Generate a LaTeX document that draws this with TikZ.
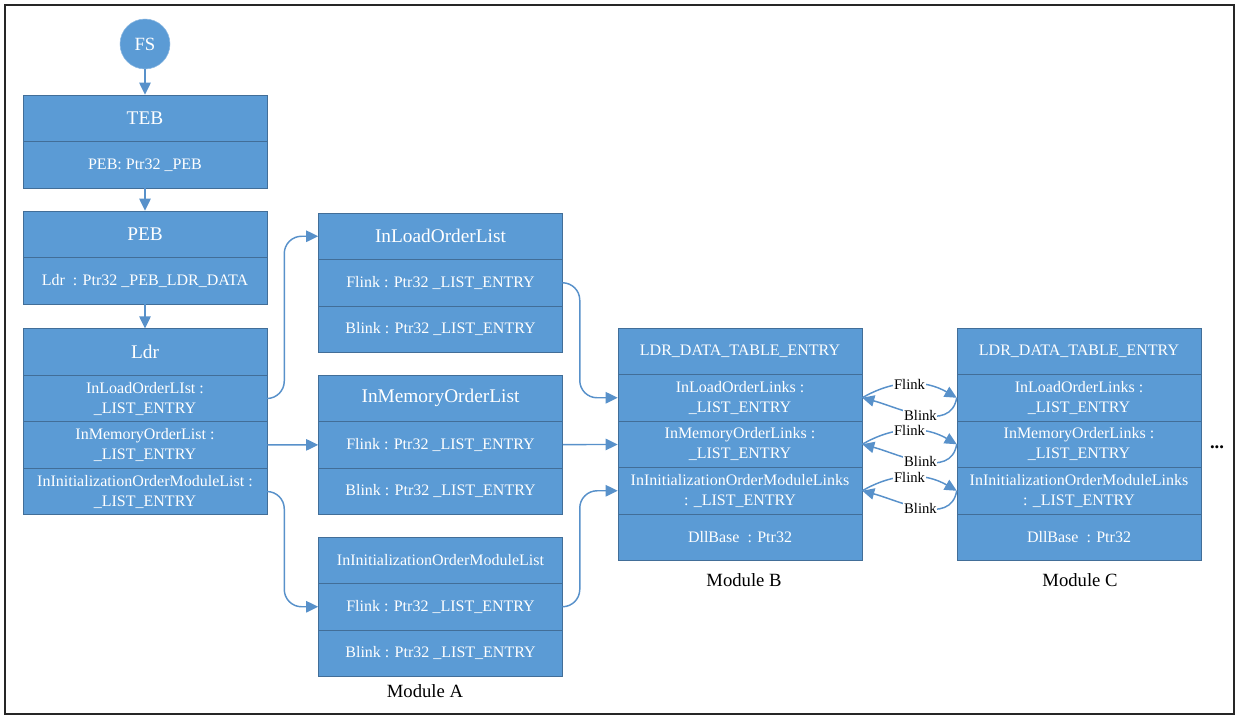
\documentclass[tikz,border=0pt]{standalone}
\usepackage{fontspec}
\setmainfont{Liberation Serif}
\usetikzlibrary{shapes,arrows.meta}

\definecolor{boxblue}{RGB}{91,155,213}
\definecolor{boxline}{RGB}{66,110,152}
\definecolor{linkblue}{RGB}{88,145,202}

\begin{document}
\begin{tikzpicture}[x=0.75pt, y=-0.75pt, node distance = 34.875pt]

    % Define block styles
    \tikzstyle{field} = [rectangle, draw=boxline, fill=boxblue, text=white,
        minimum width=183pt, minimum height=34.875pt, inner sep=1pt,
        align=center, font=\fontsize{12}{15}\selectfont]
    \tikzstyle{head} = [field, font=\fontsize{14.5}{17}\selectfont]
    \tikzstyle{line} = [draw=linkblue, line width=1.1pt, -{Triangle[length=9pt,width=8.5pt]}]
    \tikzstyle{link} = [fill=white, inner sep=0.5pt, font=\fontsize{11}{13}\selectfont]
    \tikzstyle{caption} = [font=\fontsize{14}{17}\selectfont]

    \useasboundingbox (0,0) rectangle (1240,719);
    \draw [black!85, line width=1.2pt] (5,5) rectangle (1234,714);

    % Place nodes
    \node [circle, fill=boxblue, draw=boxblue!70!white, text=white,
        minimum size=37.5pt, font=\fontsize{14}{17}\selectfont] (fs) at (145,44) {FS};

    \node [head] (teb) at (145,118.25) {TEB};
    \node [field, below of=teb] (tebpeb) {PEB: Ptr32 \_PEB};

    \node [head] (peb) at (145,234.25) {PEB};
    \node [field, below of=peb] (pebldr) {Ldr~ : Ptr32 \_PEB\_LDR\_DATA};

    \node [head] (ldr) at (145,352) {Ldr};
    \node [field, below of=ldr] (ldrload) {InLoadOrderLIst :\\\_LIST\_ENTRY};
    \node [field, below of=ldrload] (ldrmem) {InMemoryOrderList :\\\_LIST\_ENTRY};
    \node [field, below of=ldrmem] (ldrinit) {InInitializationOrderModuleList :\\\_LIST\_ENTRY};

    % Module A
    \node [head] (inload) at (440.5,236.25) {InLoadOrderList};
    \node [field, below of=inload] (inloadf) {Flink : Ptr32 \_LIST\_ENTRY};
    \node [field, below of=inloadf] (inloadb) {Blink : Ptr32 \_LIST\_ENTRY};

    \node [head] (inmem) at (440.5,398.25) {InMemoryOrderList};
    \node [field, below of=inmem] (inmemf) {Flink : Ptr32 \_LIST\_ENTRY};
    \node [field, below of=inmemf] (inmemb) {Blink : Ptr32 \_LIST\_ENTRY};

    \node [field] (ininit) at (440.5,560.25) {InInitializationOrderModuleList};
    \node [field, below of=ininit] (ininitf) {Flink : Ptr32 \_LIST\_ENTRY};
    \node [field, below of=ininitf] (ininitb) {Blink : Ptr32 \_LIST\_ENTRY};
    \node [caption] (moda) at (425,691) {Module A};

    % Module B
    \node [field] (bentry) at (740,351.25) {LDR\_DATA\_TABLE\_ENTRY};
    \node [field, below of=bentry] (bload) {InLoadOrderLinks :\\\_LIST\_ENTRY};
    \node [field, below of=bload] (bmem) {InMemoryOrderLinks :\\\_LIST\_ENTRY};
    \node [field, below of=bmem] (binit) {InInitializationOrderModuleLinks\\: \_LIST\_ENTRY};
    \node [field, below of=binit] (bbase) {DllBase~ : Ptr32};
    \node [caption] (modb) at (744,580) {Module B};

    % Module C
    \node [field] (centry) at (1079,351.25) {LDR\_DATA\_TABLE\_ENTRY};
    \node [field, below of=centry] (cload) {InLoadOrderLinks :\\\_LIST\_ENTRY};
    \node [field, below of=cload] (cmem) {InMemoryOrderLinks :\\\_LIST\_ENTRY};
    \node [field, below of=cmem] (cinit) {InInitializationOrderModuleLinks\\: \_LIST\_ENTRY};
    \node [field, below of=cinit] (cbase) {DllBase~ : Ptr32};
    \node [caption] (modc) at (1080,580) {Module C};

    \node [caption] (more) at (1217,447) {\textbf{...}};

    % Draw edges
    \path [line] (fs) -- (teb);
    \path [line] (tebpeb) -- (peb);
    \path [line] (pebldr) -- (ldr);
    \path [line, rounded corners=13pt] (ldrload.east) -- ++(17,0) |- (inload.west);
    \path [line] (ldrmem) -- (inmemf);
    \path [line, rounded corners=13pt] (ldrinit.east) -- ++(17,0) |- (ininitf.west);
    \path [line, rounded corners=13pt] (inloadf.east) -- ++(17,0) |- (bload.west);
    \path [line] (inmemf) -- (bmem);
    \path [line, rounded corners=13pt] (ininitf.east) -- ++(17,0) |- (binit.west);

    % Links between modules
    \path [line] (bload.east) to[out=30,in=150] node[link] {Flink} (cload.west);
    \path [line] (cload.west) to[out=-100,in=-15] node[link] {Blink} (bload.east);
    \path [line] (bmem.east) to[out=30,in=150] node[link] {Flink} (cmem.west);
    \path [line] (cmem.west) to[out=-100,in=-15] node[link] {Blink} (bmem.east);
    \path [line] (binit.east) to[out=30,in=150] node[link] {Flink} (cinit.west);
    \path [line] (cinit.west) to[out=-100,in=-15] node[link] {Blink} (binit.east);

\end{tikzpicture}
\end{document}
